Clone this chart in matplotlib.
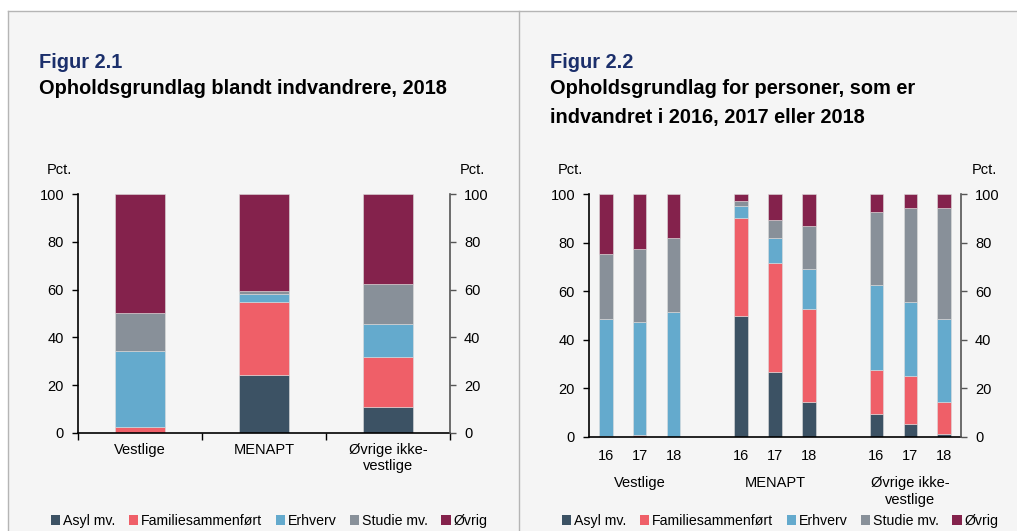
import matplotlib
matplotlib.use("Agg")
import matplotlib.pyplot as plt
from matplotlib.lines import Line2D
from matplotlib.patches import Rectangle
import numpy as np

plt.rcParams['font.family'] = ['Liberation Sans', 'DejaVu Sans']

# data
series = ["Asyl mv.", "Familiesammenført", "Erhverv", "Studie mv.", "Øvrig"]
colors = ["#3c5264", "#ef5f68", "#64aacd", "#889099", "#84224c"]

# figur 2.1 - 2018
cats_1 = ["Vestlige", "MENAPT", "Øvrige ikke-\nvestlige"]
asyl_1 = [0.0, 24.4, 11.0]
fam_1 = [2.4, 30.5, 21.0]
erh_1 = [31.9, 3.2, 13.5]
stud_1 = [16.1, 1.4, 16.9]
ovr_1 = [49.6, 40.5, 37.6]

# figur 2.2 - indvandret 2016, 2017, 2018
years_2 = ["16", "17", "18", "16", "17", "18", "16", "17", "18"]
groups_2 = ["Vestlige", "MENAPT", "Øvrige ikke-\nvestlige"]
asyl_2 = [0.0, 0.0, 0.0, 49.9, 26.8, 14.3, 9.5, 5.4, 1.1]
fam_2 = [0.5, 0.7, 0.2, 40.3, 44.6, 38.4, 18.0, 19.5, 13.5]
erh_2 = [48.0, 46.8, 51.4, 4.9, 10.3, 16.4, 34.9, 30.6, 33.8]
stud_2 = [26.8, 29.8, 30.3, 1.9, 7.6, 17.7, 30.3, 38.7, 45.7]
ovr_2 = [24.7, 22.7, 18.1, 3.0, 10.7, 13.2, 7.3, 5.8, 5.9]

W, H = 1017, 531
fig = plt.figure(figsize=(W / 100, H / 100), dpi=100, facecolor="white")

# panel background + borders
bg = "#f5f5f5"
border = "#b5b5b5"
fig.patches.append(Rectangle((8 / W, 0), 1 - 8 / W, 1 - 11 / H, transform=fig.transFigure,
                             facecolor=bg, edgecolor="none", zorder=-10))
fig.lines.append(Line2D([8 / W, 1], [1 - 11 / H, 1 - 11 / H], transform=fig.transFigure, color=border, lw=1))
fig.lines.append(Line2D([8 / W, 8 / W], [0, 1 - 11 / H], transform=fig.transFigure, color=border, lw=1))
fig.lines.append(Line2D([519 / W, 519 / W], [0, 1 - 11 / H], transform=fig.transFigure, color=border, lw=1))

FS = 10.5
TFS = 14.4


def fx(px):
    return px / W


def fy(py):
    return 1 - py / H


def style_axes(ax):
    ax.set_facecolor("none")
    ax.set_ylim(0, 100)
    ax.set_yticks(range(0, 101, 20))
    ax.tick_params(axis="y", direction="out", length=4, width=1, labelsize=FS, pad=6, colors="black")
    for s in ["top", "right"]:
        ax.spines[s].set_visible(False)
    ax.spines["left"].set_color("black")
    ax.spines["bottom"].set_color("black")
    ax.spines["left"].set_linewidth(1.2)
    ax.spines["bottom"].set_linewidth(1.2)
    rax = ax.twinx()
    rax.set_ylim(0, 100)
    rax.set_yticks(range(0, 101, 20))
    rax.tick_params(axis="y", direction="out", length=4, width=1, labelsize=FS, pad=6, color="#555555")
    for s in ["top", "left", "bottom"]:
        rax.spines[s].set_visible(False)
    rax.spines["right"].set_color("#555555")
    rax.spines["right"].set_linewidth(1.2)
    return rax


def stack(ax, x, data):
    bottom = np.zeros(len(x))
    for vals, c in zip(data, colors):
        ax.bar(x, vals, width=0.4, bottom=bottom, color=c, edgecolor="#dddddd", linewidth=0.4, zorder=2)
        bottom += np.array(vals)


# ---- Figur 2.1
ax1 = fig.add_axes([fx(78), fy(433), fx(450) - fx(78), fy(194) - fy(433)])
style_axes(ax1)
x1 = np.arange(len(cats_1))
stack(ax1, x1, [asyl_1, fam_1, erh_1, stud_1, ovr_1])
ax1.set_xlim(-0.5, 2.5)
ax1.set_xticks([-0.5, 0.5, 1.5, 2.5])
ax1.set_xticklabels([])
ax1.tick_params(axis="x", direction="out", length=5, width=1)
ax1.set_xticks(x1, minor=True)
ax1.set_xticklabels(cats_1, minor=True, fontsize=FS, va="top")
ax1.tick_params(axis="x", which="minor", length=0, pad=7)

fig.text(fx(39), fy(63), "Figur 2.1", fontsize=TFS, fontweight="bold", color="#1b2f6b", va="center")
fig.text(fx(39), fy(89), "Opholdsgrundlag blandt indvandrere, 2018", fontsize=TFS,
         fontweight="bold", va="center")
fig.text(fx(47), fy(170), "Pct.", fontsize=FS, va="center")
fig.text(fx(460), fy(170), "Pct.", fontsize=FS, va="center")

# ---- Figur 2.2
ax2 = fig.add_axes([fx(589), fy(437), fx(961) - fx(589), fy(194) - fy(437)])
style_axes(ax2)
x2 = np.array([0, 1, 2, 4, 5, 6, 8, 9, 10])
stack(ax2, x2, [asyl_2, fam_2, erh_2, stud_2, ovr_2])
ax2.set_xlim(-0.5, 10.5)
ax2.set_xticks(x2)
ax2.set_xticklabels(years_2, fontsize=FS)
ax2.tick_params(axis="x", length=0, pad=9)
for gx, g in zip([1, 5, 9], groups_2):
    ax2.text(gx, -0.16, g, transform=ax2.get_xaxis_transform(), ha="center", va="top",
             fontsize=FS, linespacing=1.3)

fig.text(fx(550), fy(63), "Figur 2.2", fontsize=TFS, fontweight="bold", color="#1b2f6b", va="center")
fig.text(fx(550), fy(89), "Opholdsgrundlag for personer, som er", fontsize=TFS, fontweight="bold", va="center")
fig.text(fx(550), fy(117), "indvandret i 2016, 2017 eller 2018", fontsize=TFS, fontweight="bold", va="center")
fig.text(fx(558), fy(170), "Pct.", fontsize=FS, va="center")
fig.text(fx(972), fy(170), "Pct.", fontsize=FS, va="center")

# legends
handles = [Rectangle((0, 0), 1, 1, facecolor=c, edgecolor="none") for c in colors]
for left in [fx(51), fx(562)]:
    fig.legend(handles, series, loc="center left", bbox_to_anchor=(left, fy(521)), ncol=5,
               frameon=False, fontsize=10.2, handlelength=0.65, handleheight=0.65,
               handletextpad=0.2, columnspacing=0.95, borderaxespad=0, borderpad=0)

fig.savefig("out.png", dpi=100, facecolor="white")
